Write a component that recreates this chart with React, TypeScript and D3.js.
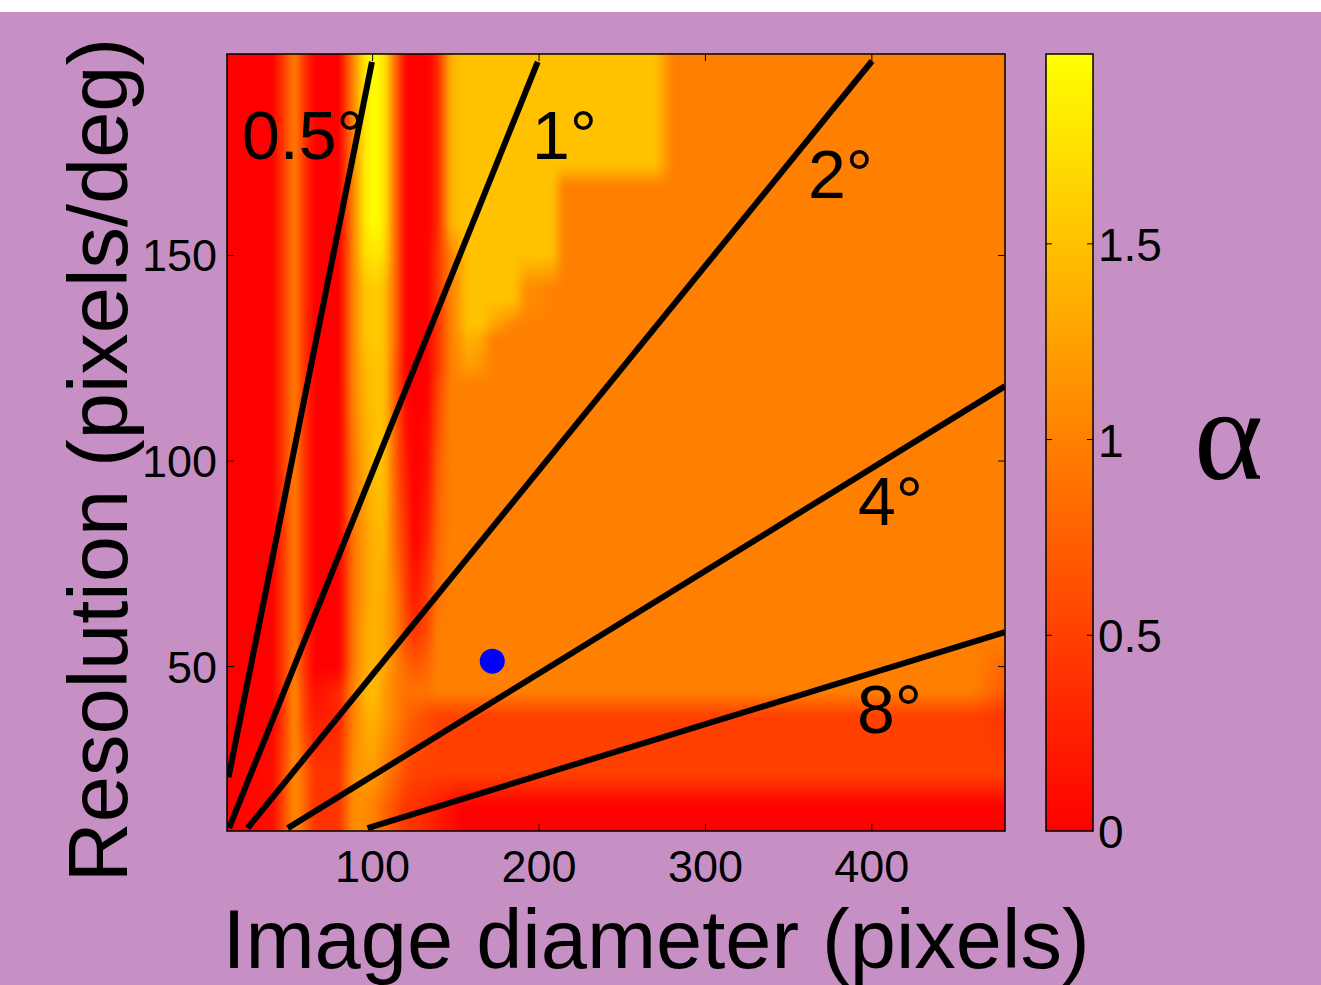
import React, { useMemo } from "react";
import * as d3 from "d3";

const W = 1321;
const H = 985;

// axes
const xDomain: [number, number] = [12.5, 480];
const yDomain: [number, number] = [10, 199];
const xTicks = [100, 200, 300, 400];
const yTicks = [50, 100, 150];
const cMax = 1.985;
const cTicks = [0, 0.5, 1, 1.5];
const cTickLabels = ["0", "0.5", "1", "1.5"];

// heatmap grid (image diameter nodes, resolution nodes) and alpha values
const gridX = [12.5, 40, 47, 53, 59, 65, 80, 88, 95, 101, 107, 114, 120, 125, 133, 139, 147, 153, 157, 166, 172, 185, 192, 208, 215, 270, 280, 460, 480];
const gridY = [199, 172, 167, 158, 150, 142, 139, 133, 130, 122, 119, 100, 80, 66, 58, 50, 44, 38, 24, 16, 10];
// each char = alpha*10, index into LEVELS
const LEVELS = "0123456789ABCDEFGHIJK";
const alphaRows = [
  "005A400AIKI80003EFFFFFFFFFAAA",
  "005A400AIKI80003EFFFFFFFFFAAA",
  "005A400AIKI80003EFFFFFFFAAAAA",
  "005A400AIKI80003EFFFFFFFAAAAA",
  "005A400AHIH80004ADFFFFFFAAAAA",
  "005A400AFGF80004ADFFFFBAAAAAA",
  "005A400AFGF80004ADFFFFBAAAAAA",
  "005A400AFGF80004ADFFDAAAAAAAA",
  "005A400AFGF80004ACEDAAAAAAAAA",
  "005A400AEFF70004ABCBAAAAAAAAA",
  "005A400AEFF70005AAAAAAAAAAAAA",
  "005A4009DFF72017AAAAAAAAAAAAA",
  "005A4009CEE84038AAAAAAAAAAAAA",
  "005A4009CEDA5259AAAAAAAAAAAAA",
  "005A4009DEDA646AAAAAAAAAAAAAA",
  "005A4009DEDA878AAAAAAAAAAAAA8",
  "005B513AEFCA999AAAAAAAAAAAAA7",
  "005B523ADECA87655555555555554",
  "016B844BCCA865555555555555555",
  "016B844BBA8644321000000000000",
  "016B844BBA8644321000000000000",
];

// iso-size lines (degrees of visual angle)
const lineLabels = ["0.5°", "1°", "2°", "4°", "8°"];
const lineStart = [[13.4, 23.1], [13.7, 10.7], [24.9, 10.7], [49, 10.7], [97, 10.7]];
const lineEnd = [[99.6, 197.1], [199.2, 197.1], [400.1, 197.3], [480, 118.2], [480, 58.4]];
// label anchor points (data coords, text start / baseline)
const labelPos = [[21.5, 173.5], [195.8, 173.5], [361.6, 164.0], [391.7, 84.4], [391.1, 33.8]];

const dotPoint = [171.9, 51.3];

const plot = { left: 227, right: 1005, top: 54, bottom: 831 };
const cbar = { left: 1046, right: 1093 };
const FONT = "'Liberation Sans', Arial, Helvetica, sans-serif";

export default function App() {
  const x = d3.scaleLinear().domain(xDomain).range([plot.left, plot.right]);
  const y = d3.scaleLinear().domain(yDomain).range([plot.bottom, plot.top]);
  const c = d3.scaleLinear().domain([0, cMax]).range([plot.bottom, plot.top]);
  const green = d3.scaleLinear().domain([0, cMax]).range([0, 255]).clamp(true);

  const href = useMemo(() => {
    const w = plot.right - plot.left;
    const h = plot.bottom - plot.top;
    const p = 12;
    const W1 = w + 2 * p;
    const H1 = h + 2 * p;
    const canvas = document.createElement("canvas");
    canvas.width = W1;
    canvas.height = H1;
    const ctx = canvas.getContext("2d");
    if (!ctx) return "";
    const img = ctx.createImageData(W1, H1);
    const vals = alphaRows.map((r) => Array.from(r).map((ch) => LEVELS.indexOf(ch) / 10));
    const ci: number[] = [];
    const ct: number[] = [];
    for (let px = 0; px < W1; px++) {
      const xv = x.invert(plot.left - p + px + 0.5);
      let i = d3.bisectRight(gridX, xv) - 1;
      i = Math.max(0, Math.min(gridX.length - 2, i));
      const t = Math.max(0, Math.min(1, (xv - gridX[i]) / (gridX[i + 1] - gridX[i])));
      ci.push(i);
      ct.push(t);
    }
    for (let py = 0; py < H1; py++) {
      const yv = y.invert(plot.top - p + py + 0.5);
      let j = 0;
      while (j < gridY.length - 2 && gridY[j + 1] >= yv) j++;
      const u = Math.max(0, Math.min(1, (gridY[j] - yv) / (gridY[j] - gridY[j + 1])));
      const r0 = vals[j];
      const r1 = vals[j + 1];
      for (let px = 0; px < W1; px++) {
        const i = ci[px];
        const t = ct[px];
        const a = r0[i] * (1 - t) + r0[i + 1] * t;
        const b = r1[i] * (1 - t) + r1[i + 1] * t;
        const v = a * (1 - u) + b * u;
        const k = (py * W1 + px) * 4;
        img.data[k] = 255;
        img.data[k + 1] = Math.round(green(v));
        img.data[k + 2] = 0;
        img.data[k + 3] = 255;
      }
    }
    ctx.putImageData(img, 0, 0);
    const out = document.createElement("canvas");
    out.width = w;
    out.height = h;
    const octx = out.getContext("2d");
    if (!octx) return canvas.toDataURL();
    octx.filter = "blur(2.5px)";
    octx.drawImage(canvas, -p, -p);
    return out.toDataURL();
  }, []);

  const tickLen = 7;

  return (
    <svg width={W} height={H} style={{ position: "absolute", left: 0, top: 0 }} xmlns="http://www.w3.org/2000/svg">
      <defs>
        <clipPath id="plotClip">
          <rect x={plot.left} y={plot.top} width={plot.right - plot.left} height={plot.bottom - plot.top} />
        </clipPath>
        <linearGradient id="cbarGrad" x1="0" y1="1" x2="0" y2="0">
          <stop offset="0" stopColor="rgb(255,0,0)" />
          <stop offset="1" stopColor="rgb(255,255,0)" />
        </linearGradient>
      </defs>
      <rect x={0} y={0} width={W} height={H} fill="#ffffff" />
      <rect x={0} y={12} width={W} height={H - 12} fill="#c790c5" />

      {href && (
        <image href={href} x={plot.left} y={plot.top} width={plot.right - plot.left} height={plot.bottom - plot.top} preserveAspectRatio="none" />
      )}

      <g clipPath="url(#plotClip)">
        {lineStart.map((s, i) => (
          <line key={i} x1={x(s[0])} y1={y(s[1])} x2={x(lineEnd[i][0])} y2={y(lineEnd[i][1])} stroke="#000" strokeWidth={6} strokeLinecap="butt" />
        ))}
        <circle cx={x(dotPoint[0])} cy={y(dotPoint[1])} r={12.5} fill="#0000ff" />
      </g>

      {lineLabels.map((t, i) => (
        <text key={t} x={x(labelPos[i][0])} y={y(labelPos[i][1])} fontFamily={FONT} fontSize={68} fill="#000">
          {t}
        </text>
      ))}

      {/* axes box */}
      <rect x={plot.left} y={plot.top} width={plot.right - plot.left} height={plot.bottom - plot.top} fill="none" stroke="#000" strokeWidth={1.5} />
      {xTicks.map((t) => (
        <g key={"xt" + t}>
          <line x1={x(t)} x2={x(t)} y1={plot.bottom} y2={plot.bottom - tickLen} stroke="#000" strokeWidth={1} />
          <line x1={x(t)} x2={x(t)} y1={plot.top} y2={plot.top + tickLen} stroke="#000" strokeWidth={1} />
          <text x={x(t)} y={plot.bottom + 51} textAnchor="middle" fontFamily={FONT} fontSize={45} fill="#000">
            {t}
          </text>
        </g>
      ))}
      {yTicks.map((t) => (
        <g key={"yt" + t}>
          <line x1={plot.left} x2={plot.left + tickLen} y1={y(t)} y2={y(t)} stroke="#000" strokeWidth={1} />
          <line x1={plot.right} x2={plot.right - tickLen} y1={y(t)} y2={y(t)} stroke="#000" strokeWidth={1} />
          <text x={plot.left - 10} y={y(t) + 16} textAnchor="end" fontFamily={FONT} fontSize={45} fill="#000">
            {t}
          </text>
        </g>
      ))}

      <text x={656} y={968} textAnchor="middle" fontFamily={FONT} fontSize={83} fill="#000">
        Image diameter (pixels)
      </text>
      <text transform="translate(127,460) rotate(-90)" textAnchor="middle" fontFamily={FONT} fontSize={83} fill="#000">
        Resolution (pixels/deg)
      </text>

      {/* colorbar */}
      <rect x={cbar.left} y={plot.top} width={cbar.right - cbar.left} height={plot.bottom - plot.top} fill="url(#cbarGrad)" stroke="#000" strokeWidth={1.5} />
      {cTicks.map((t, i) => (
        <g key={"ct" + t}>
          {t > 0 && (
            <>
              <line x1={cbar.left} x2={cbar.left + 6} y1={c(t)} y2={c(t)} stroke="#000" strokeWidth={1} />
              <line x1={cbar.right} x2={cbar.right - 6} y1={c(t)} y2={c(t)} stroke="#000" strokeWidth={1} />
            </>
          )}
          <text x={cbar.right + 5} y={c(t) + 17} fontFamily={FONT} fontSize={46} fill="#000">
            {cTickLabels[i]}
          </text>
        </g>
      ))}
      <text x={1194} y={479} fontFamily="'Liberation Serif', 'Times New Roman', serif" fontSize={132} fill="#000">
        α
      </text>
    </svg>
  );
}
